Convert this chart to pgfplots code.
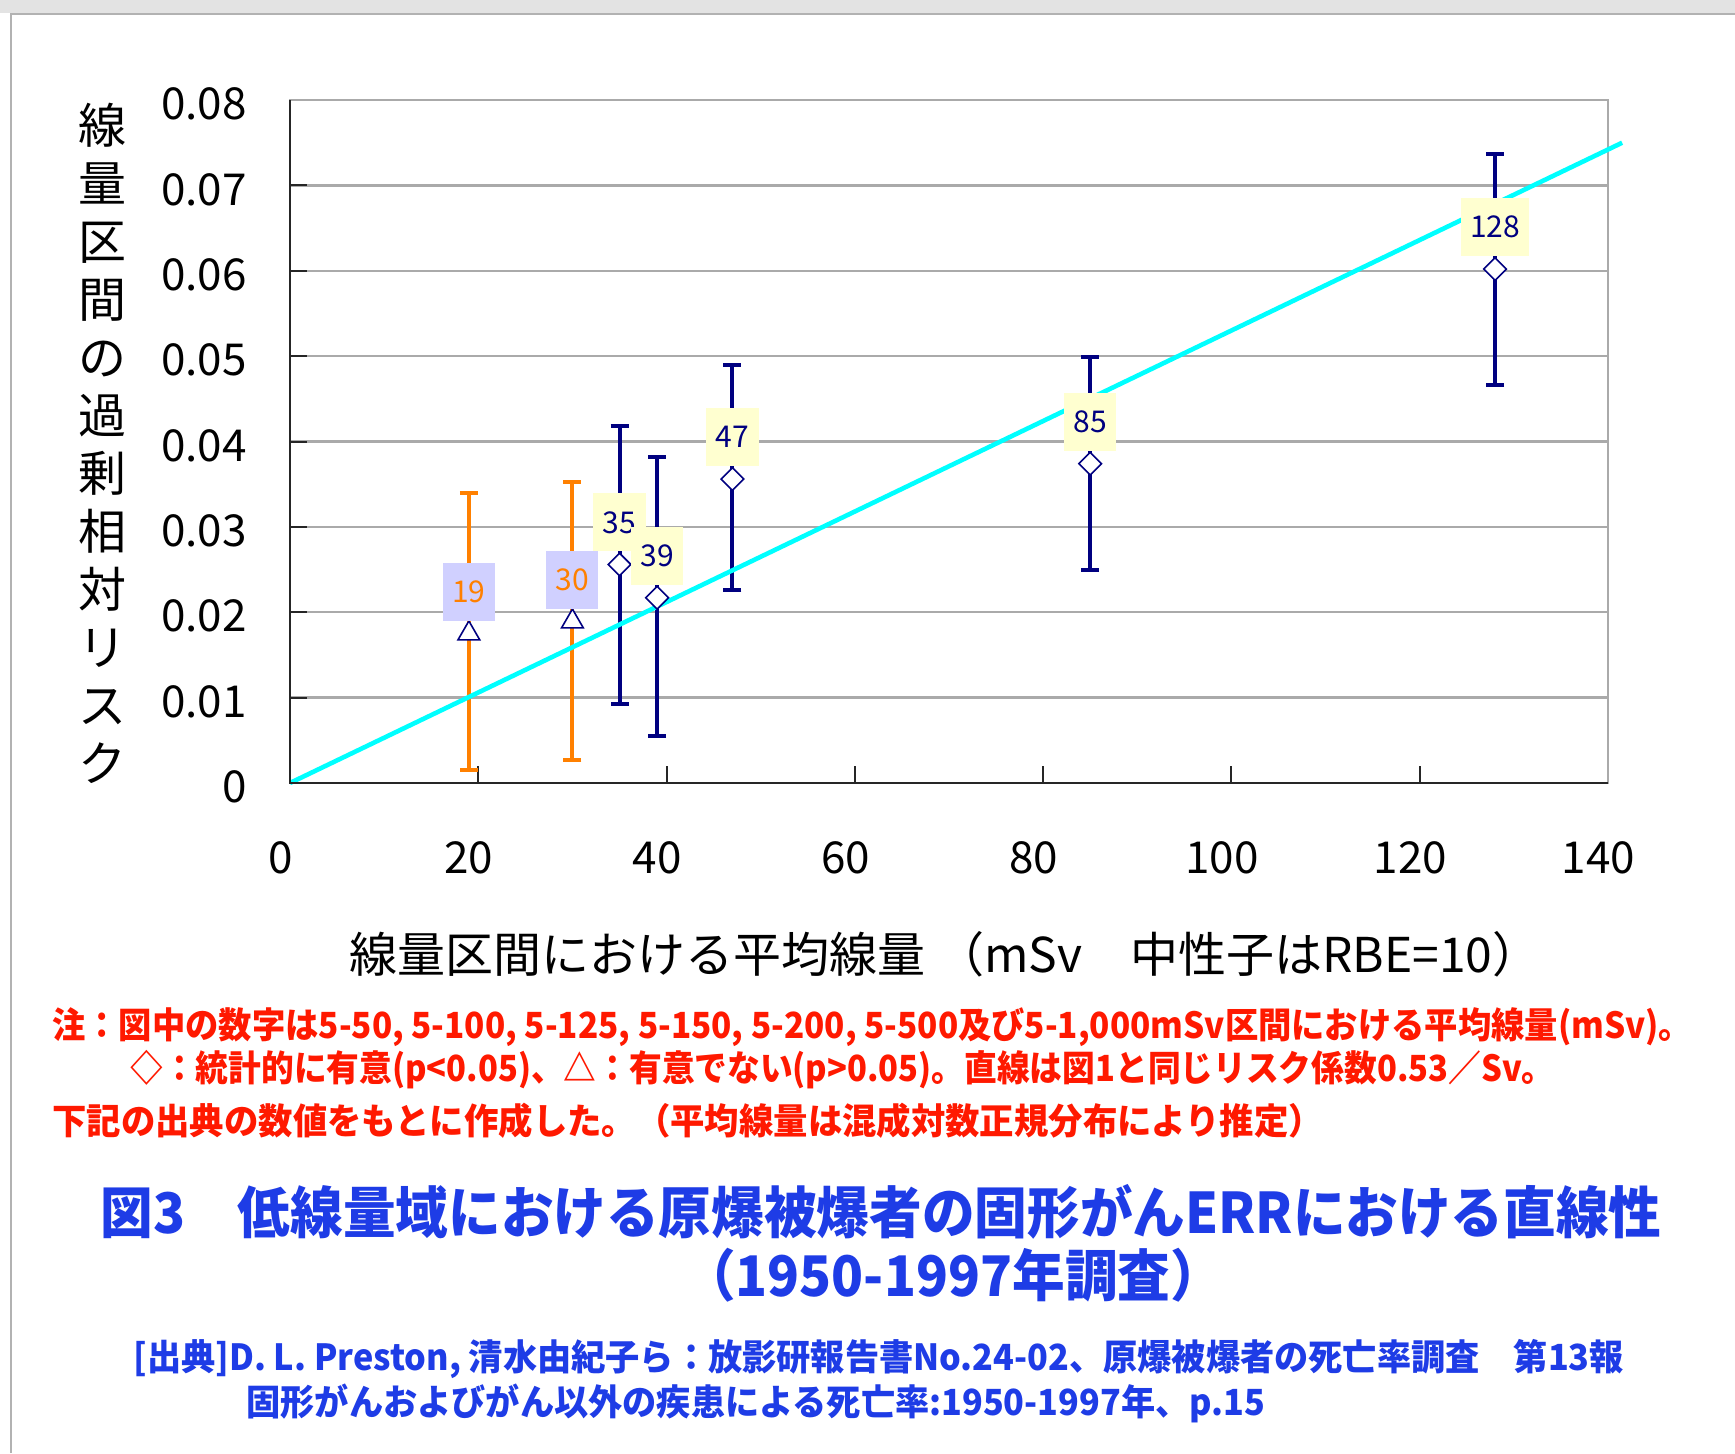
\documentclass[border=0pt]{standalone}
\usepackage{fontspec}
\setmainfont{Noto Sans CJK JP}
\newfontfamily\notefont[FakeStretch=0.925]{Noto Sans CJK JP}
\newfontfamily\notefontb[FakeStretch=0.909]{Noto Sans CJK JP}
\newfontfamily\notefontc[FakeStretch=0.955]{Noto Sans CJK JP}
\newfontfamily\sourcefont[FakeStretch=0.95]{Noto Sans CJK JP}
\newfontfamily\titlefont[FakeStretch=0.94]{Noto Sans CJK JP}
\usepackage{pgfplots}
\pgfplotsset{compat=1.18}
\usepackage{pgfplotstable}

\definecolor{navyb}{RGB}{0,0,128}
\definecolor{orangeb}{RGB}{255,128,0}
\definecolor{fitcyan}{RGB}{0,255,255}
\definecolor{labyellow}{RGB}{255,255,208}
\definecolor{lablav}{RGB}{208,208,255}
\definecolor{gridgray}{RGB}{170,170,170}
\definecolor{notered}{RGB}{255,25,0}
\definecolor{titleblue}{RGB}{30,60,230}

% mean dose (mSv), ERR, upper and lower half-widths of the CI, label
\pgfplotstableread{
x   y      ep     em     lab
35  0.0256 0.0162 0.0164 35
39  0.0217 0.0165 0.0162 39
47  0.0356 0.0134 0.0130 47
85  0.0374 0.0125 0.0124 85
128 0.0602 0.0135 0.0136 128
}\signif
\pgfplotstableread{
x   y      ep     em     lab
19  0.0175 0.0165 0.0160 19
30  0.0189 0.0164 0.0162 30
}\nonsig

\begin{document}
\begin{tikzpicture}
\path[use as bounding box] (0,0) rectangle (867.5pt,726.5pt);
\fill[white] (0,0) rectangle (867.5pt,726.5pt);

\begin{axis}[
  at={(145pt,335pt)}, anchor=south west,
  scale only axis, width=659pt, height=341.5pt,
  xmin=0, xmax=140, ymin=0, ymax=0.08,
  xtick={0,20,40,60,80,100,120,140},
  ytick={0,0.01,0.02,0.03,0.04,0.05,0.06,0.07,0.08},
  yticklabels={0,0.01,0.02,0.03,0.04,0.05,0.06,0.07,0.08},
  scaled y ticks=false,
  /pgf/number format/assume math mode=true,
  tick align=inside, major tick length=8.5pt,
  xtick pos=bottom, ytick pos=left,
  tick style={draw=black!85, line width=1pt},
  ymajorgrids, major grid style={gridgray, line width=1.2pt},
  axis line style={gridgray, line width=1.4pt},
  tick label style={font=\fontsize{22}{22}\selectfont, inner sep=0pt},
  xticklabel style={anchor=center, yshift=-37.5pt, xshift=-4.7pt},
  yticklabel style={anchor=east, xshift=-21.5pt, yshift=-2pt},
  clip=false,
  xlabel={線量区間における平均線量 （mSv　中性子はRBE=10）},
  every axis x label/.style={at={(axis description cs:0.497,-0.2504)}, anchor=center,
    font=\fontsize{24}{24}\selectfont},
  ylabel={線\\量\\区\\間\\の\\過\\剰\\相\\対\\リ\\ス\\ク},
  every axis y label/.style={at={(axis description cs:-0.1426,0.497)}, anchor=center,
    align=center, font=\fontsize{24}{29}\selectfont},
  after end axis/.code={
    \draw[black!85, line width=1.1pt] (rel axis cs:0,1) -- (rel axis cs:0,0) -- (rel axis cs:1,0);
  },
]
% not significant (p>0.05): triangles with orange intervals
\addplot[orangeb, only marks, mark=triangle*, mark size=6.3pt,
  mark options={fill=white, draw=navyb, line width=0.8pt},
  error bars/.cd, y dir=both, y explicit,
  error bar style={line width=2pt, orangeb},
  error mark options={rotate=90, mark size=4.5pt, line width=2pt, orangeb}]
  table[x=x, y=y, y error plus=ep, y error minus=em]{\nonsig};
% significant (p<0.05): diamonds with navy intervals
\addplot[navyb, only marks, mark=square*, mark size=4pt,
  mark options={rotate=45, fill=white, draw=navyb, line width=0.8pt},
  error bars/.cd, y dir=both, y explicit,
  error bar style={line width=2pt, navyb},
  error mark options={rotate=90, mark size=4.5pt, line width=2pt, navyb}]
  table[x=x, y=y, y error plus=ep, y error minus=em]{\signif};
% linear risk 0.53 per Sv
\addplot[fitcyan, line width=2.3pt] coordinates {(0,0) (141.5,0.074995)};
% mean-dose labels
\addplot[draw=none, mark=none, nodes near coords, point meta=explicit symbolic,
  every node near coord/.append style={fill=lablav, text=orangeb,
    font=\fontsize{15}{15}\selectfont, inner xsep=4.7pt, inner ysep=0pt,
    minimum height=29pt, anchor=center, yshift=21pt}]
  table[x=x, y=y, meta=lab]{\nonsig};
\addplot[draw=none, mark=none, nodes near coords, point meta=explicit symbolic,
  every node near coord/.append style={fill=labyellow, text=navyb,
    font=\fontsize{15}{15}\selectfont, inner xsep=4.7pt, inner ysep=0pt,
    minimum height=29pt, anchor=center, yshift=21pt}]
  table[x=x, y=y, meta=lab]{\signif};
\end{axis}

\begin{scope}[x=0.5pt, y=-0.5pt, shift={(0pt,726.5pt)}]
  \fill[black!11] (0,0) rectangle (1735,13);
  \draw[black!30, line width=1pt] (11,1453) -- (11,14) -- (1735,14);
  \begin{scope}[every node/.style={inner sep=0pt, text=notered, anchor=west}]
    \node[font=\notefont\bfseries\fontsize{18}{18}\selectfont] at (52,1027) {注：図中の数字は5-50, 5-100, 5-125, 5-150, 5-200, 5-500及び5-1,000mSv区間における平均線量(mSv)。};
    \node[font=\notefontb\bfseries\fontsize{18}{18}\selectfont] at (130,1070) {◇：統計的に有意(p<0.05)、△：有意でない(p>0.05)。直線は図1と同じリスク係数0.53／Sv。};
    \node[font=\notefontc\bfseries\fontsize{18}{18}\selectfont] at (52,1121) {下記の出典の数値をもとに作成した。（平均線量は混成対数正規分布により推定）};
  \end{scope}
  \begin{scope}[every node/.style={inner sep=0pt, text=titleblue,
      font=\titlefont\bfseries\fontsize{28}{28}\selectfont}]
    \node at (881,1212) {図3　低線量域における原爆被爆者の固形がんERRにおける直線性};
    \node at (953,1275) {（1950-1997年調査）};
  \end{scope}
  \begin{scope}[every node/.style={inner sep=0pt, anchor=west, text=titleblue,
      font=\sourcefont\bfseries\fontsize{18}{18}\selectfont}]
    \node at (133,1359) {[出典]D. L. Preston, 清水由紀子ら：放影研報告書No.24-02、原爆被爆者の死亡率調査　第13報};
    \node at (246,1403) {固形がんおよびがん以外の疾患による死亡率:1950-1997年、p.15};
  \end{scope}
\end{scope}
\end{tikzpicture}
\end{document}
